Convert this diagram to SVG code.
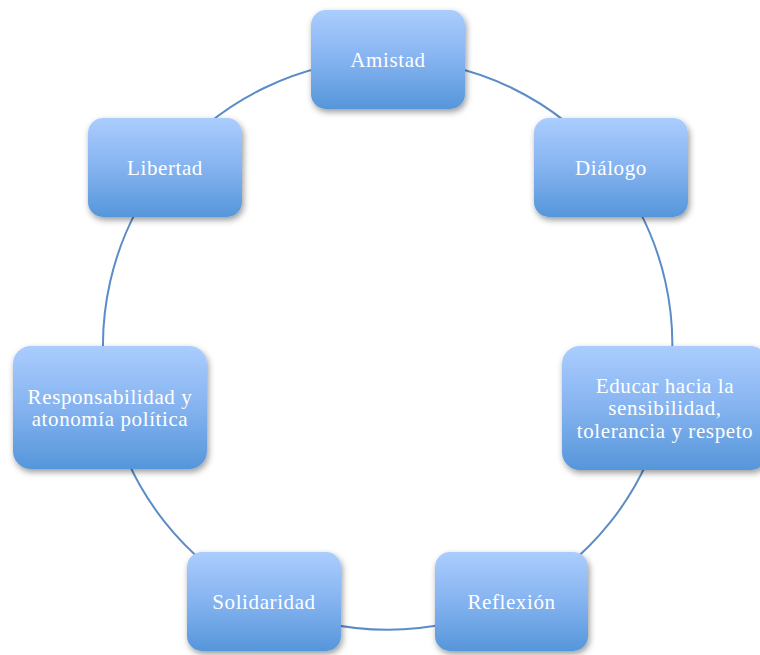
<svg xmlns="http://www.w3.org/2000/svg" width="760" height="655" viewBox="0 0 760 655">
<defs>
<linearGradient id="g" x1="0" y1="0" x2="0" y2="1">
<stop offset="0" stop-color="#abcdfe"/>
<stop offset="0.5" stop-color="#85b3f0"/>
<stop offset="1" stop-color="#5596da"/>
</linearGradient>
<filter id="sh" x="-20%" y="-20%" width="140%" height="150%">
<feDropShadow dx="1.5" dy="3" stdDeviation="3" flood-color="#000" flood-opacity="0.4"/>
</filter>
<style>
.box{fill:url(#g);filter:url(#sh)}
.t{font-family:"Liberation Serif","Times New Roman",serif;font-size:21px;letter-spacing:0.6px;fill:#ffffff;text-anchor:middle}
.c{fill:none;stroke:#5b8cc8;stroke-width:2}
</style>
</defs>
<rect width="760" height="655" fill="#ffffff"/>
<g id="connectors">
<path class="c" d="M388 59.5 A285 285 0 0 1 611 167.5"/>
<path class="c" d="M611 167.5 A285 285 0 0 1 665 408"/>
<path class="c" d="M665 408 A285 285 0 0 1 511.5 601.5"/>
<path class="c" d="M511.5 601.5 A285 285 0 0 1 264 601.5"/>
<path class="c" d="M264 601.5 A285 285 0 0 1 110 407.5"/>
<path class="c" d="M110 407.5 A285 285 0 0 1 165 167.5"/>
<path class="c" d="M165 167.5 A285 285 0 0 1 388 59.5"/>
</g>
<g id="amistad"><rect class="box" x="311" y="10" width="154" height="99" rx="15"/><text class="t" x="388" y="67">Amistad</text></g>
<g id="dialogo"><rect class="box" x="534" y="118" width="154" height="99" rx="15"/><text class="t" x="611" y="175">Diálogo</text></g>
<g id="educar"><rect class="box" x="562" y="346" width="206" height="124" rx="18"/><text class="t" x="665" y="392.5">Educar hacia la</text><text class="t" x="665" y="415">sensibilidad,</text><text class="t" x="665" y="437.5">tolerancia y respeto</text></g>
<g id="reflexion"><rect class="box" x="435" y="552" width="153" height="99" rx="15"/><text class="t" x="511.5" y="609">Reflexión</text></g>
<g id="solidaridad"><rect class="box" x="187" y="552" width="154" height="99" rx="15"/><text class="t" x="264" y="609">Solidaridad</text></g>
<g id="responsabilidad"><rect class="box" x="13" y="346" width="194" height="123" rx="18"/><text class="t" x="110" y="403.5">Responsabilidad y</text><text class="t" x="110" y="426">atonomía política</text></g>
<g id="libertad"><rect class="box" x="88" y="118" width="154" height="99" rx="15"/><text class="t" x="165" y="175">Libertad</text></g>
</svg>
